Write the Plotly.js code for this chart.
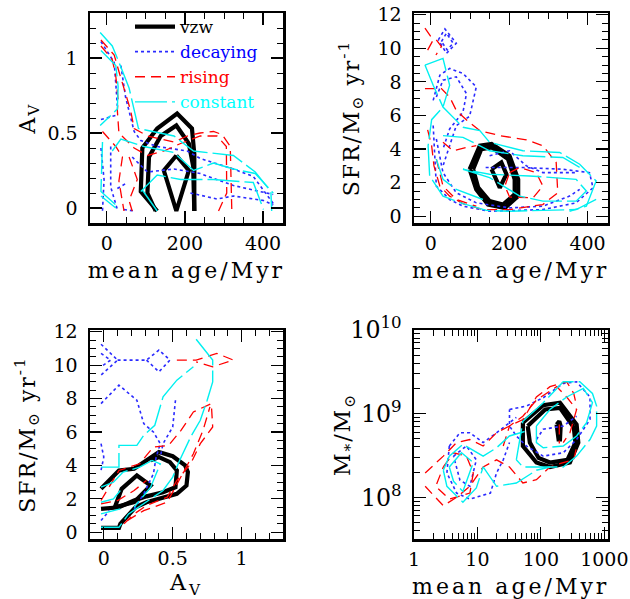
<!DOCTYPE html>
<html><head><meta charset="utf-8">
<script src="https://cdn.plot.ly/plotly-3.0.1.min.js"></script>
<style>
body{margin:0;background:#fff}#chart{width:630px;height:599px}
.xtitle,.x2title,.x3title,.x4title{letter-spacing:3px}
.ytitle,.y2title,.y3title,.y4title{letter-spacing:2px}
</style>
</head><body><div id="chart"></div>
<script>
// ---------- Panel 1: A_V vs mean age ----------
const p1_vzw_age = [129,87,91,129,180,218,224,224,null, 125,104,108,138,178,210,221,224,null, 178,146,178,210,178];
const p1_vzw_av  = [-0.02,0.11,0.40,0.53,0.63,0.53,0.36,-0.02,null, -0.02,0.10,0.34,0.48,0.55,0.43,0.28,-0.02,null, 0.35,0.25,-0.02,0.25,0.35];
const p1_dec_age = [-15,19,23,27,null, -15,27,null, 36,48,70,87,129,206,239,324,375,426,null, 65,104,172,239,324,426,null, 27,53,null, -15,-7,-11,null, 10,10,27,null, 214,282,324,401,426,null, 44,70];
const p1_dec_av  = [1.11,0.97,0.83,0.68,null, 0.59,0.62,null, 0.95,0.74,0.51,0.45,0.41,0.38,0.33,0.26,0.21,0.03,null, 0.34,0.24,0.26,0.23,0.15,0.09,null, 0.13,0.17,null, 0.40,0.19,-0.02,null, 0.41,0.14,-0.01,null, 0.10,0.06,0.08,0.05,0.02,null, -0.01,-0.02];
const p1_ris_age = [-15,19,31,48,61,70,104,172,206,239,273,295,316,320,null, -15,14,23,29,27,31,70,104,146,189,239,282,306,307,286,null, -11,23,40,31,44,null, 57,78,57,65];
const p1_ris_av  = [1.12,1.02,0.91,0.76,0.65,0.53,0.48,0.44,0.48,0.50,0.51,0.49,0.41,-0.02,null, 1.08,0.99,0.88,0.72,0.65,0.50,0.40,0.35,0.38,0.43,0.48,0.48,0.41,0.10,-0.02,null, 0.51,0.41,0.34,0.18,-0.02,null, 0.34,0.19,0.05,-0.02];
const p1_con_age = [-17,14,36,57,81,172,222,324,380,420,422,null, -15,23,29,27,-17,null, -11,-15,23,null, 14,36,95,172,222,273,324,380,426,null, 87,129,189,273,375,401,null, 91,129,null, -15,23];
const p1_con_av  = [1.17,1.08,0.94,0.80,0.53,0.48,0.38,0.35,0.24,0.11,-0.02,null, 1.05,0.95,0.81,0.66,0.55,null, 0.44,0.11,0.02,null, 0.38,0.46,0.41,0.37,0.25,0.30,0.26,0.23,0.10,null, 0.11,0.22,0.19,0.19,0.17,-0.01,null, 0.12,-0.02,null, 0.08,0.00];

// ---------- Panel 2: SFR vs mean age ----------
const p2_vzw_age = [99,125,155,201,223,223,189,146,116,99,null, 108,129,155,197,214,214,184,150,121,108,null, 155,180,193,176,155];
const p2_vzw_sfr = [2.8,4.2,4.3,3.6,2.2,1.2,0.5,0.7,1.6,2.8,null, 2.8,4.0,4.1,3.4,2.2,1.3,0.7,0.9,1.7,2.8,null, 2.8,3.2,2.5,1.7,2.8];
const p2_dec_age = [19,36,65,40,19,null, 27,40,57,42,27,null, 6,23,48,82,116,99,65,48,31,null, 14,31,65,91,82,48,31,null, 6,10,14,48,82,150,286,371,414,405,337,235,133,null, 14,31,65,116,201,286,354,380,null, 150,201,244,286,371];
const p2_dec_sfr = [10.5,11.15,10.3,9.7,10.5,null, 10.4,10.9,10.3,9.9,10.4,null, 6.9,8.4,8.8,8.5,7.7,5.95,5.4,4.2,3.0,null, 7.1,8.1,8.3,7.3,6.2,5.2,4.0,null, 5.4,3.6,1.8,1.0,0.6,0.3,0.4,0.8,1.7,2.6,2.8,2.9,2.9,null, 4.6,2.6,1.4,0.8,0.5,0.6,1.2,1.6,null, 3.6,3.9,3.0,2.6,2.6];
const p2_ris_age = [-15,6,-15,null, 14,27,13,null, -15,27,48,65,95,125,176,244,286,320,324,286,201,133,82,48,23,8,2,-11,null, 31,57,91,116,null, 201,227,269,286,261,201,189,201,null, 14,31,65,116];
const p2_ris_sfr = [11.2,10.5,9.6,null, 10.5,10.1,9.6,null, 7.6,7.6,7.1,6.3,5.65,5.1,4.8,4.55,4.2,3.2,1.4,0.7,0.4,0.4,0.75,1.2,1.8,3.0,4.2,5.4,null, 4.4,3.9,4.1,4.2,null, 2.6,2.9,2.6,1.8,1.1,1.15,1.8,2.6,null, 3.4,1.8,1.0,0.6];
const p2_con_age = [-15,31,48,31,2,-7,-3,31,82,142,201,371,422,null, -15,6,31,82,125,150,235,329,380,422,397,354,null, 82,150,227,286,371,397,371,252,150,82,null, 31,82,150,235,337,388,null, 14,31,65,133];
const p2_con_sfr = [9.0,9.4,7.8,6.5,5.75,4.2,2.4,1.2,0.75,0.35,0.3,0.4,1.0,null, 9.0,7.8,6.5,5.3,5.1,4.4,3.9,3.8,3.1,2.1,0.6,0.3,null, 2.8,2.3,1.2,0.9,0.9,1.5,2.2,2.4,2.5,2.8,null, 4.8,4.7,3.9,3.6,3.5,2.8,null, 3.4,2.2,1.6,1.0];

// ---------- Panel 3: SFR vs A_V ----------
const p3_vzw_av  = [-0.02,0.11,0.22,0.31,0.40,0.50,0.59,0.61,0.60,0.53,0.43,0.31,0.23,0.12,0.11,-0.02,null, -0.02,0.11,0.22,0.31,0.43,0.52,0.53,0.48,0.40,0.34,null, 0.08,0.13,0.24,0.34,0.22,0.08];
const p3_vzw_sfr = [2.6,3.7,3.8,4.3,4.8,4.55,4.0,3.6,2.8,2.3,2.1,1.8,1.5,0.5,0.26,0.26,null, 1.4,1.5,1.9,2.15,2.4,2.7,3.7,4.2,4.5,4.3,null, 1.5,2.6,3.4,2.8,1.8,1.5];
const p3_dec_av  = [-0.02,0.10,-0.02,null, -0.02,0.05,-0.02,null, 0.10,0.24,0.31,0.40,0.48,0.40,0.31,null, -0.02,0.11,0.24,0.29,0.36,0.41,0.38,0.36,0.29,0.22,null, 0.52,0.50,0.43,0.41,null, -0.02,0.00,-0.02,null, -0.02,0.04];
const p3_dec_sfr = [11.25,10.3,9.4,null, 10.7,10.3,9.9,null, 10.3,10.3,10.3,10.9,10.3,9.6,10.3,null, 7.7,8.8,7.9,6.5,6.0,5.3,4.5,3.5,2.3,1.4,null, 7.9,6.3,5.3,4.5,null, 5.3,4.5,3.7,null, 0.7,1.3];
const p3_ris_av  = [0.53,0.67,0.82,0.94,0.79,0.67,null, -0.02,0.11,0.26,0.36,0.47,0.56,0.65,0.78,0.79,0.70,0.63,0.53,0.46,0.31,0.22,0.12,null, 0.17,0.29,0.46,0.56,0.65,0.72,0.77,null, -0.02,0.10,0.22,0.31];
const p3_ris_sfr = [10.3,10.3,10.7,10.3,9.9,10.2,null, 1.9,3.7,4.1,5.1,5.2,6.1,7.2,7.7,6.3,5.3,4.1,3.1,2.1,1.6,1.1,0.3,null, 0.7,1.3,1.8,3.3,4.7,6.1,7.5,null, 1.7,1.9,2.5,3.1];
const p3_con_av  = [0.67,0.79,0.79,0.75,0.70,0.63,0.55,0.50,0.43,0.36,0.24,0.18,0.11,-0.02,null, -0.02,0.11,0.11,0.24,0.29,0.37,0.43,0.53,0.65,null, -0.02,0.07,0.14,0.26,0.35,0.41,0.38,0.34,0.26,0.22,null, -0.02,0.07,0.12,null, -0.02,0.07,0.12];
const p3_con_sfr = [11.55,10.3,9.0,7.9,6.7,5.7,4.3,3.3,2.5,2.1,1.4,1.1,0.3,0.3,null, 3.9,3.9,5.2,5.2,5.8,6.4,8.1,9.1,9.9,null, 2.7,3.0,3.6,3.9,4.3,4.1,3.5,2.7,1.9,1.5,null, 1.8,2.0,2.5,null, 1.1,1.3,1.4];

// ---------- Panel 4: stellar mass vs mean age (log-log) ----------
const p4_vzw_age  = [52,109,200,366,389,287,139,85,52,52,null, 62,117,200,330,350,262,139,92,67,62,null, 177,195,205,200,190,177];
const p4_vzw_mass = [7.8e8,1.26e9,1.35e9,7.4e8,4.5e8,2.6e8,2.3e8,2.6e8,4.1e8,7.8e8,null, 7.1e8,1.12e9,1.17e9,6.8e8,4.5e8,2.8e8,2.6e8,2.95e8,4.5e8,7.1e8,null, 7.4e8,8.1e8,7.1e8,4.9e8,4.9e8,7.4e8];
const p4_dec_age  = [32,59,109,225,366,595,595,366,225,109,59,41,32,32,null, 85,109,225,366,null, 3.6,5.3,7.6,12.3,20,32,41,null, 3.6,3.3,4.7,7.6,16,20,25.5,32,null, 4.2,6.7,9.6,7.6,5.3,4.2];
const p4_dec_mass = [1.12e9,1.23e9,1.55e9,2.3e9,2.4e9,1.58e9,8.5e8,4.9e8,3.4e8,3.1e8,4.1e8,5.4e8,7.1e8,1.12e9,null, 4.9e8,6.5e8,7.1e8,9.3e8,null, 4.1e8,5.9e8,5.9e8,4.5e8,5.9e8,7.8e8,9e8,null, 4.1e8,1.95e8,1.12e8,9.5e7,1.12e8,1.95e8,2.8e8,4.5e8,null, 3.1e8,4.1e8,2.8e8,1.35e8,1.6e8,3.1e8];
const p4_ris_age  = [1.5,2.9,4.7,7.6,12.3,20,32,52,85,139,255,330,366,null, 1.5,2.9,4.7,7.6,12.3,20,32,52,85,139,225,330,366,null, 2.9,4.2,6.7,8.6,7.6,3.6,2.2,2.9,null, 25.5,32,52,85,177,255,366,287,225,null, 195,195];
const p4_ris_mass = [1.95e8,3.1e8,4.5e8,4.9e8,4.1e8,5.9e8,7.1e8,8.5e8,1.58e9,2.1e9,2.4e9,1.74e9,1.23e9,null, 1.35e8,7.9e7,1.0e8,1.35e8,2.3e8,2.8e8,2.3e8,1.48e8,1.62e8,2.3e8,2.6e8,2.8e8,4.0e8,null, 2.3e8,3.4e8,3.1e8,1.95e8,1.12e8,9.5e7,1.35e8,2.3e8,null, 4.1e8,7.1e8,9.3e8,1.45e9,2.1e9,1.58e9,1.12e9,5.9e8,4.5e8,null, 7.4e8,4.4e8];
const p4_con_age  = [41,52,109,225,410,650,756,756,595,366,225,109,52,41,null, 85,139,255,467,650,525,366,225,109,85,85,null, 2.9,3.6,5.9,9.6,12.3,20,32,59,null, 2.9,3.3,5.9,9.6,12.3,20,41,85,139,null, 3.6,5.6,8.6,5.9,4.2,3.6];
const p4_con_mass = [2.8e8,8.1e8,1.35e9,2.4e9,2.4e9,1.74e9,1.23e9,7.1e8,4.9e8,3.1e8,2.3e8,2.3e8,2.3e8,2.8e8,null, 7.1e8,1.12e9,1.58e9,2.0e9,1.35e9,7.8e8,5.4e8,4.1e8,3.9e8,4.5e8,7.1e8,null, 2.1e8,3.1e8,4.3e8,3.5e8,3.1e8,3.9e8,5.4e8,6.2e8,null, 2.1e8,1.35e8,8.7e7,1.29e8,2.3e8,1.35e8,1.48e8,2.1e8,2.3e8,null, 2.3e8,3.4e8,2.6e8,1.17e8,1.55e8,2.3e8];

// ---------- legend labels ----------
const seriesNames = ['vzw','decaying','rising','constant'];
const seriesColors = ['#000000','#0000ff','#ff0000','#00ffff'];

const styles = {
  vzw: {color:'#000000', width:4.2, dash:'solid'},
  decaying: {color:'#2a2aff', width:1.6, dash:'dot'},
  rising: {color:'#ff0000', width:1.3, dash:'10px,6px'},
  constant: {color:'#00f0f0', width:1.4, dash:'32px,5px'}
};

const panels = [
  {xa:'x', ya:'y', sets:{vzw:[p1_vzw_age,p1_vzw_av], decaying:[p1_dec_age,p1_dec_av], rising:[p1_ris_age,p1_ris_av], constant:[p1_con_age,p1_con_av]}},
  {xa:'x2', ya:'y2', sets:{vzw:[p2_vzw_age,p2_vzw_sfr], decaying:[p2_dec_age,p2_dec_sfr], rising:[p2_ris_age,p2_ris_sfr], constant:[p2_con_age,p2_con_sfr]}},
  {xa:'x3', ya:'y3', sets:{vzw:[p3_vzw_av,p3_vzw_sfr], decaying:[p3_dec_av,p3_dec_sfr], rising:[p3_ris_av,p3_ris_sfr], constant:[p3_con_av,p3_con_sfr]}},
  {xa:'x4', ya:'y4', sets:{vzw:[p4_vzw_age,p4_vzw_mass], decaying:[p4_dec_age,p4_dec_mass], rising:[p4_ris_age,p4_ris_mass], constant:[p4_con_age,p4_con_mass]}}
];

const traces = [];
panels.forEach((p, pi) => {
  seriesNames.forEach((s, si) => {
    const d = p.sets[s];
    traces.push({
      type:'scatter', mode:'lines', x:d[0], y:d[1], xaxis:p.xa, yaxis:p.ya,
      line:styles[s], connectgaps:false, hoverinfo:'skip',
      name:'<span style="color:'+seriesColors[si]+'">'+s+'</span>',
      showlegend: pi === 0, legendrank: si+1
    });
  });
});

const FONT = 'DejaVu Serif, Liberation Serif, serif';
function axis(o) {
  const a = {
    domain:o.domain, anchor:o.anchor, range:o.range, type:o.type||'linear',
    showline:true, linecolor:'#000', linewidth:2.5, mirror:'allticks',
    ticks:'inside', ticklen:12, tickwidth:1.2, tickcolor:'#000',
    showgrid:false, zeroline:false, dtick:o.dtick, tick0:o.tick0,
    tickfont:{family:FONT, size:19, color:'#000'}, ticklabelstandoff:o.tls,
    minor:{ticks:'inside', ticklen:6, tickwidth:1, tickcolor:'#000', dtick:o.minor, showgrid:false},
    title:{text:o.title, font:{family:FONT, size:22, color:'#000'}},
    automargin:false, fixedrange:true
  };
  if (o.standoff !== undefined) a.title.standoff = o.standoff;
  if (o.exponentformat) a.exponentformat = o.exponentformat;
  return a;
}

const dx1 = [90/630, 283/630], dx2 = [414/630, 607.5/630];
const dyT = [1-223/599, 1-13/599], dyB = [1-539/599, 1-330/599];
const ageTitle = 'mean age/Myr';
const sfrTitle = 'SFR/M<sub>⊙</sub> yr<sup>-1</sup>';

const layout = {
  width:630, height:599, margin:{l:0,r:0,t:0,b:0},
  paper_bgcolor:'#fff', plot_bgcolor:'#fff',
  xaxis: axis({domain:dx1, anchor:'y', range:[-43,451], dtick:200, tick0:0, minor:50, title:ageTitle, tls:2, standoff:10}),
  yaxis: axis({domain:dyT, anchor:'x', range:[-0.1,1.3], dtick:0.5, tick0:0, minor:0.1, title:'A<sub>V</sub>', tls:6}),
  xaxis2: axis({domain:dx2, anchor:'y2', range:[-43,451], dtick:200, tick0:0, minor:50, title:ageTitle, tls:2, standoff:10}),
  yaxis2: axis({domain:dyT, anchor:'x2', range:[-0.4,12.1], dtick:2, tick0:0, minor:0.5, title:sfrTitle, tls:6}),
  xaxis3: axis({domain:dx1, anchor:'y3', range:[-0.1,1.3], dtick:0.5, tick0:0, minor:0.1, title:'A<sub>V</sub>', tls:1}),
  yaxis3: axis({domain:dyB, anchor:'x3', range:[-0.4,12.1], dtick:2, tick0:0, minor:0.5, title:sfrTitle, tls:6}),
  xaxis4: axis({domain:dx2, anchor:'y4', type:'log', range:[0,3.05], dtick:1, minor:'D1', title:ageTitle, exponentformat:'none', tls:2}),
  yaxis4: axis({domain:dyB, anchor:'x4', type:'log', range:[7.5,10], dtick:1, minor:'D1', title:'M<sub>*</sub>/M<sub>⊙</sub>', exponentformat:'power', tls:6}),
  showlegend:true,
  legend:{x:130/630, y:1-9/599, xanchor:'left', yanchor:'top', bgcolor:'rgba(0,0,0,0)',
          font:{family:FONT, size:17, color:'#000'}, itemwidth:40, tracegroupgap:0, itemclick:false}
};

Plotly.newPlot('chart', traces, layout, {staticPlot:true, displayModeBar:false});
</script></body></html>
